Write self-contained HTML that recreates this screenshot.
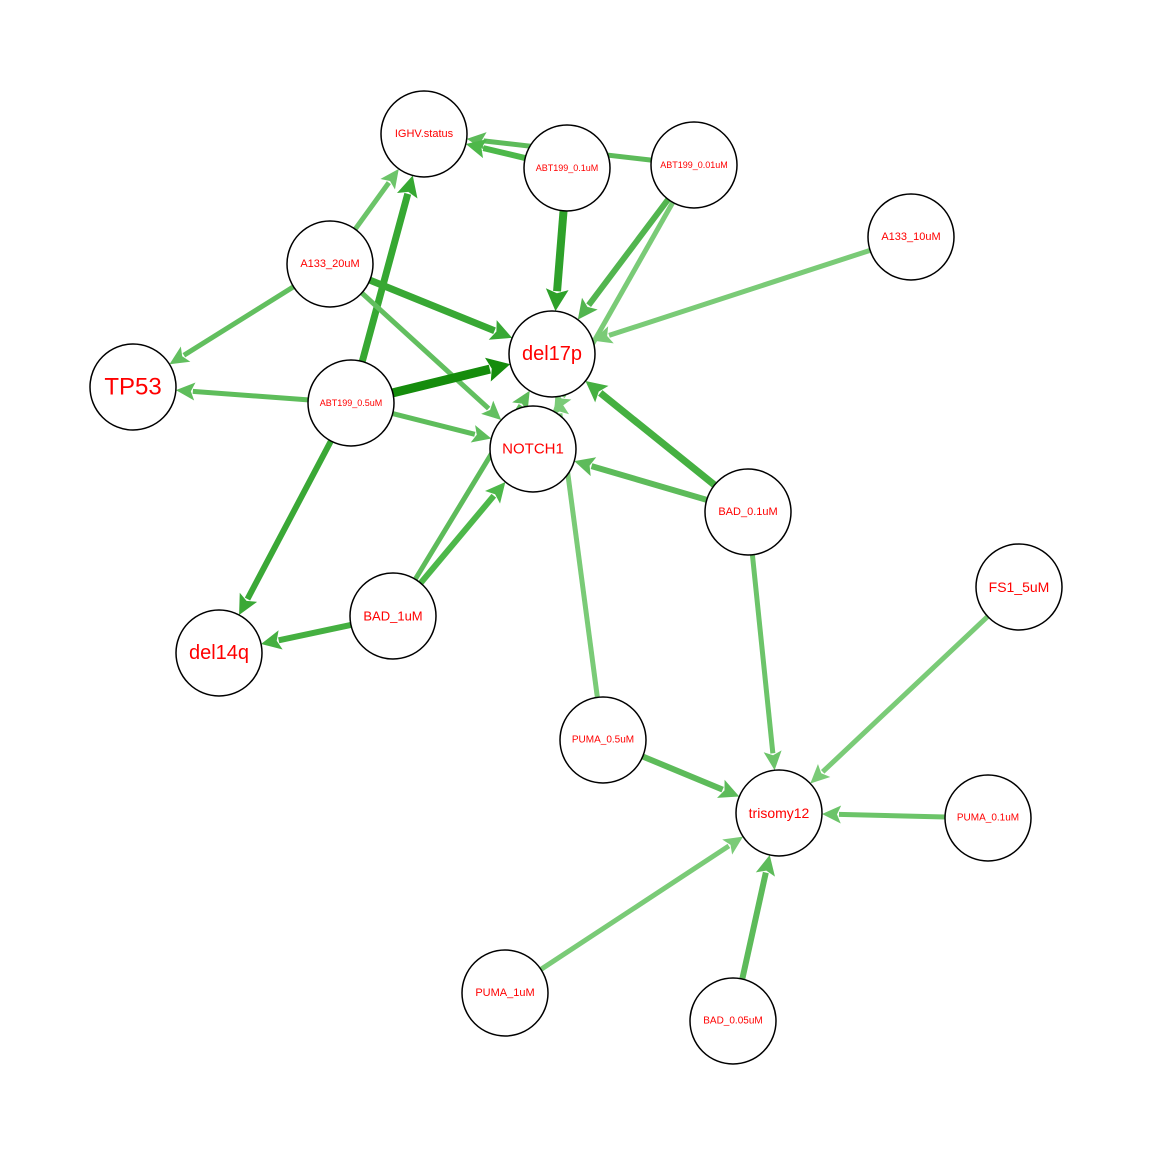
<!DOCTYPE html>
<html><head><meta charset="utf-8"><style>
html,body{margin:0;padding:0;background:#fff;}
svg{display:block}
text{font-family:"Liberation Sans",Arial,sans-serif;fill:#ff0000;text-anchor:middle;dominant-baseline:central}
</style></head><body>
<svg id="s" width="1152" height="1152" xmlns="http://www.w3.org/2000/svg"></svg>
<script>
const N={
IGHV:[424,134,"IGHV.status",11],
A01:[567,168,"ABT199_0.1uM",9],
A001:[694,165,"ABT199_0.01uM",9],
A10:[911,237,"A133_10uM",11],
A20:[330,264,"A133_20uM",11],
D17:[552,354,"del17p",20],
TP53:[133,387,"TP53",24],
A05:[351,403,"ABT199_0.5uM",9],
NOT:[533,449,"NOTCH1",15],
B01:[748,512,"BAD_0.1uM",11],
FS1:[1019,587,"FS1_5uM",14],
B1:[393,616,"BAD_1uM",13],
D14:[219,653,"del14q",20],
P05:[603,740,"PUMA_0.5uM",10],
T12:[779,813,"trisomy12",14],
P01:[988,818,"PUMA_0.1uM",10],
P1:[505,993,"PUMA_1uM",11],
B005:[733,1021,"BAD_0.05uM",10]};
const R=43;
const E=[
["A001","IGHV",5,"#5dbb5a"],["A01","IGHV",6,"#4db84a"],["A20","IGHV",5,"#6cc469"],["A05","IGHV",7,"#36a832"],
["A01","D17",8,"#2ea12a"],["A001","D17",6,"#52b54f"],["A001","NOT",5,"#7acb77"],["A10","D17",5,"#7acb77"],
["A20","D17",7,"#38a834"],["A20","NOT",5,"#62bf5f"],["A20","TP53",5,"#62bf5f"],
["A05","D17",9,"#158c0c"],["A05","TP53",5,"#5ebd5b"],["A05","NOT",5,"#5ebd5b"],["A05","D14",6,"#3aa836"],
["B01","D17",7,"#45b041"],["B01","NOT",6,"#5dbb5a"],["B01","T12",5,"#6cc469"],
["B1","NOT",6,"#4db84a"],["B1","D17",5,"#5dbb5a"],["B1","D14",6,"#45b041"],
["P05","D17",5,"#7acb77"],["P05","T12",6,"#5dbb5a"],
["FS1","T12",5,"#7acb77"],["P01","T12",5,"#6cc469"],["P1","T12",5,"#7acb77"],["B005","T12",6,"#5dbb5a"]];
let h="";
for(const [a,b,w,c] of E){
 const [x1,y1]=N[a],[x2,y2]=N[b];
 const dx=x2-x1,dy=y2-y1,L=Math.hypot(dx,dy),ux=dx/L,uy=dy/L;
 const sx=x1+ux*R,sy=y1+uy*R,ex=x2-ux*R,ey=y2-uy*R;
 const al=14+w,aw=5+w*0.8;
 const bx=ex-ux*al,by=ey-uy*al;
 h+=`<line x1="${sx}" y1="${sy}" x2="${bx+ux*2}" y2="${by+uy*2}" stroke="${c}" stroke-width="${w}"/>`;
 h+=`<polygon fill="${c}" points="${ex},${ey} ${bx-uy*aw},${by+ux*aw} ${bx+ux*4},${by+uy*4} ${bx+uy*aw},${by-ux*aw}"/>`;
}
for(const k in N){const [x,y,t,f]=N[k];
 h+=`<circle cx="${x}" cy="${y}" r="${R}" fill="#fff" stroke="#000" stroke-width="1.5"/><text x="${x}" y="${y}" font-size="${f}">${t}</text>`;}
document.getElementById("s").innerHTML=h;
</script>
</body></html>
